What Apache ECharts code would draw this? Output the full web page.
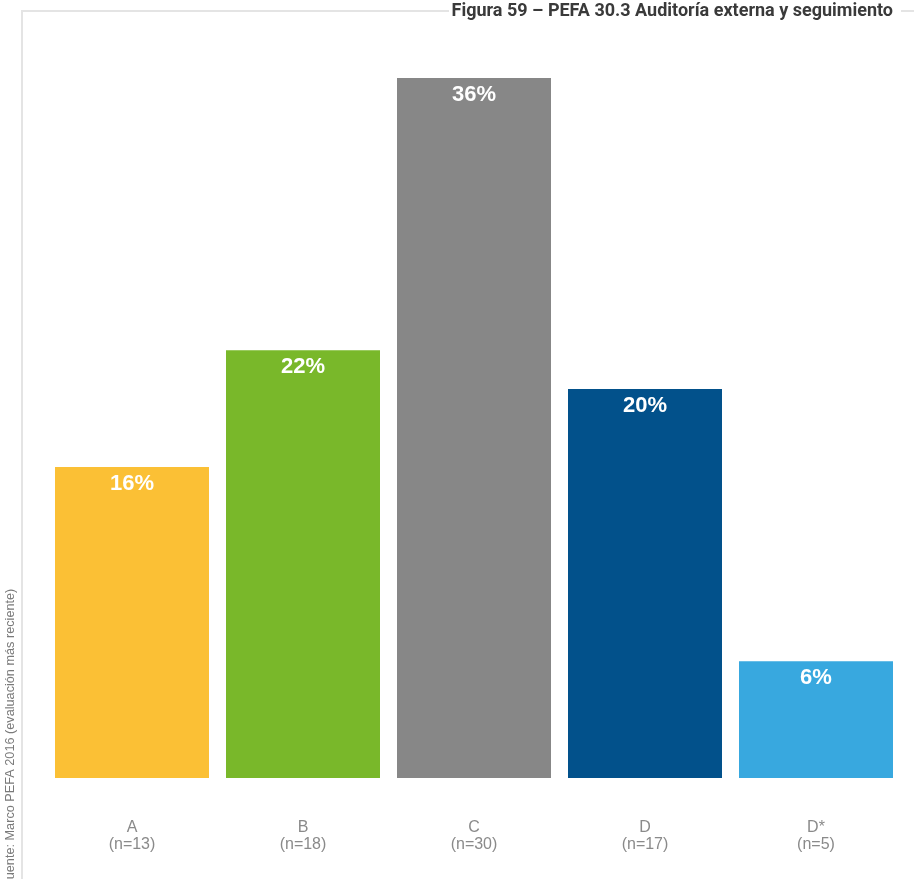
<!DOCTYPE html>
<html>
<head>
<meta charset="utf-8">
<script src="https://cdn.jsdelivr.net/npm/echarts@6/dist/echarts.min.js"></script>
<style>
  html, body { margin: 0; padding: 0; background: #fff; }
  #chart { width: 914px; height: 879px; }
</style>
</head>
<body>
<div id="chart"></div>
<script>
// Scores and number of assessments per grade
const categories = ['A', 'B', 'C', 'D', 'D*'];
const counts = [13, 18, 30, 17, 5];
const shares = [16, 22, 36, 20, 6];
const barColors = ['#FBC035', '#79B82A', '#878787', '#02518B', '#38A8DF'];

const titleText = 'Figura 59 – PEFA 30.3 Auditoría externa y seguimiento';
const sourceText = 'Fuente: Marco PEFA 2016 (evaluación más reciente)';

const chart = echarts.init(document.getElementById('chart'), null, { renderer: 'canvas' });

chart.setOption({
  animation: false,
  backgroundColor: '#ffffff',
  grid: { left: 46.5, top: 78, width: 855, height: 700, containLabel: false },
  xAxis: {
    type: 'category',
    data: categories.map((c, i) => c + '\n(n=' + counts[i] + ')'),
    axisLine: { show: false },
    axisTick: { show: false },
    axisLabel: {
      color: '#8a8a8a',
      fontFamily: 'Liberation Sans',
      fontSize: 16,
      lineHeight: 17,
      margin: 41
    }
  },
  yAxis: {
    type: 'value',
    min: 0,
    max: 36,
    show: false
  },
  series: [{
    type: 'bar',
    barWidth: 154,
    data: shares.map((v, i) => ({ value: v, itemStyle: { color: barColors[i] } })),
    label: {
      show: true,
      position: 'insideTop',
      distance: 6,
      formatter: p => p.value + '%',
      color: '#ffffff',
      fontFamily: 'Liberation Sans',
      fontWeight: 'bold',
      fontSize: 22
    }
  }],
  graphic: [
    { type: 'line', shape: { x1: 22, y1: 11, x2: 449, y2: 11 }, style: { stroke: '#e4e4e4', lineWidth: 2 } },
    { type: 'line', shape: { x1: 901, y1: 11, x2: 914, y2: 11 }, style: { stroke: '#e4e4e4', lineWidth: 2 } },
    { type: 'line', shape: { x1: 22, y1: 10, x2: 22, y2: 879 }, style: { stroke: '#e4e4e4', lineWidth: 2 } },
    {
      type: 'text', right: 21, top: 2,
      style: { text: titleText, fill: '#3a3a3a', font: 'bold 18px Roboto' }
    },
    {
      type: 'text', x: 10, y: 887, rotation: Math.PI / 2,
      style: {
        text: sourceText, fill: '#7a7a7a', font: '12.7px Liberation Sans',
        textAlign: 'left', textVerticalAlign: 'middle'
      }
    }
  ]
});
</script>
</body>
</html>
